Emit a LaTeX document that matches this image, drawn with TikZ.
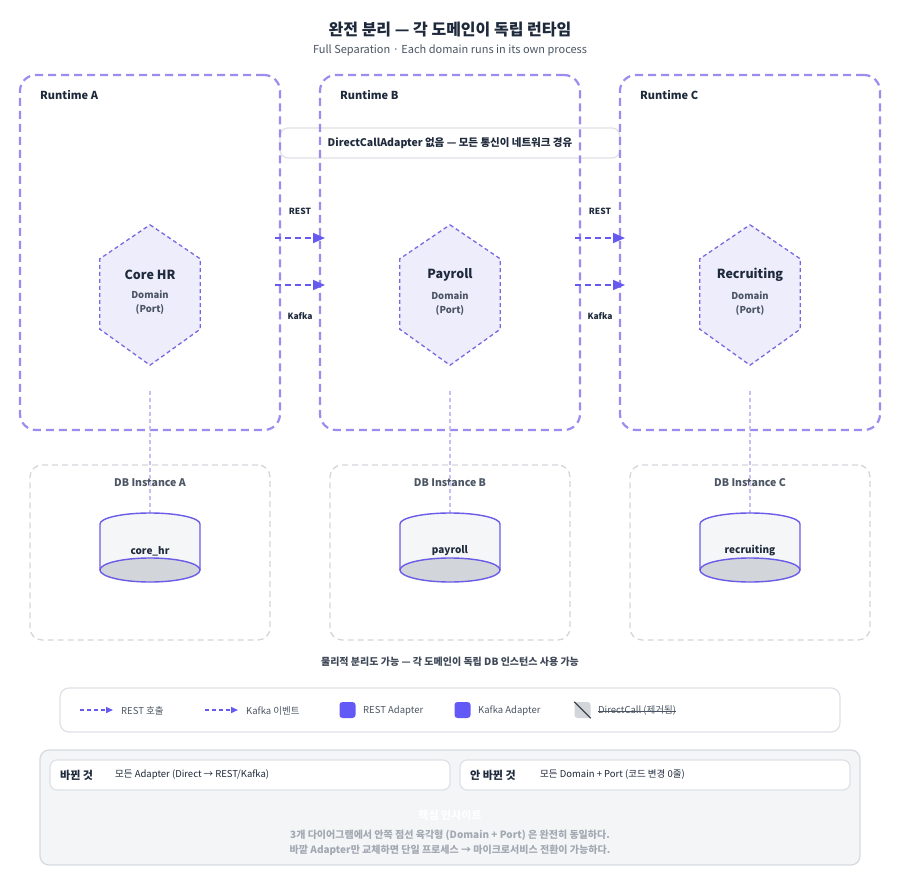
\documentclass[tikz,border=0pt]{standalone}
\usepackage{fontspec}
\setmainfont{Noto Sans CJK KR}
\usepackage{tikz}
\usetikzlibrary{arrows.meta,positioning,calc}
\definecolor{Ink}{HTML}{1E293B}
\definecolor{Muted}{HTML}{4B5563}
\definecolor{RunLine}{HTML}{9D8CF0}
\definecolor{HexLine}{HTML}{7A68E2}
\definecolor{HexFill}{HTML}{EEEDFC}
\definecolor{Flow}{HTML}{6559F0}
\definecolor{DbLine}{HTML}{D4D6DB}
\definecolor{CylLine}{HTML}{6B5CE7}
\definecolor{CylBody}{HTML}{F4F6F8}
\definecolor{CylEnd}{HTML}{D2D5DA}
\definecolor{Link}{HTML}{C9BEF5}
\definecolor{Rule}{HTML}{DEE1E6}
\definecolor{Panel}{HTML}{F3F5F7}
\definecolor{PanelLine}{HTML}{D6DAE0}
\definecolor{Adapter}{HTML}{6259F6}
\definecolor{Faint}{HTML}{A3A9B3}
\tikzset{
  runtime/.style={draw=RunLine,line width=2.2pt,dash pattern=on 8pt off 5pt,rounded corners=16pt,minimum width=260pt,minimum height=355pt,inner sep=0pt},
  rtlabel/.style={font=\fontsize{11}{13}\selectfont\bfseries,text=Ink,anchor=west,inner sep=0pt},
  hexline/.style={draw=HexLine,fill=HexFill,line width=1.3pt,dash pattern=on 4pt off 3pt},
  hextitle/.style={font=\fontsize{12.5}{14}\selectfont\bfseries,text=Ink,inner sep=0pt},
  hexsub/.style={font=\fontsize{9.5}{14}\selectfont\bfseries,text=Muted,align=center,inner sep=0pt},
  flow/.style={-{Triangle[length=12pt,width=10pt]},draw=Flow,line width=1.8pt,dash pattern=on 6pt off 4pt},
  smallflow/.style={-{Triangle[length=7pt,width=6pt]},draw=Flow,line width=1.4pt,dash pattern=on 4pt off 3pt},
  flowlabel/.style={font=\fontsize{8.5}{10}\selectfont\bfseries,text=Ink,inner sep=0pt},
  dbbox/.style={draw=DbLine,line width=1.3pt,dash pattern=on 6pt off 4pt,rounded corners=12pt,minimum width=240pt,minimum height=175pt},
  dblabel/.style={font=\fontsize{10.5}{12}\selectfont\bfseries,text=Muted,inner sep=0pt},
  cylline/.style={draw=CylLine,line width=1.4pt},
  cyllabel/.style={font=\fontsize{10}{12}\selectfont\bfseries,text=Ink,inner sep=0pt},
  linkline/.style={draw=Link,line width=1.4pt,dash pattern=on 4pt off 3pt},
  bar/.style={draw=Rule,fill=white,line width=1.2pt,rounded corners=8pt,minimum width=340pt,minimum height=30pt,font=\fontsize{10.5}{12}\selectfont\bfseries,text=Ink},
  legendbox/.style={draw=Rule,fill=white,line width=1.2pt,rounded corners=9pt,minimum width=780pt,minimum height=44pt},
  legtext/.style={font=\fontsize{9.5}{11}\selectfont,text=Muted,anchor=west,inner sep=0pt},
  adsq/.style={fill=Adapter,rounded corners=3pt,minimum size=16pt,inner sep=0pt},
  panel/.style={draw=PanelLine,fill=Panel,line width=1.2pt,rounded corners=9pt,minimum width=820pt,minimum height=115pt},
  subbox/.style={draw=Rule,fill=white,line width=1.2pt,rounded corners=7pt,minimum height=30pt},
  subhead/.style={font=\fontsize{11}{13}\selectfont\bfseries,text=Ink,anchor=west,inner sep=0pt},
  subtext/.style={font=\fontsize{9.5}{11}\selectfont,text=Ink,anchor=west,inner sep=0pt},
  insight/.style={font=\fontsize{10}{15}\selectfont\bfseries,text=Faint,align=center,inner sep=0pt}
}
\begin{document}
\begin{tikzpicture}[x=1pt,y=-1pt]
  \useasboundingbox[fill=white] (0,0) rectangle (900,880);
  % heading
  \node[font=\fontsize{16}{18}\selectfont\bfseries,text=Ink] (title) at (450,30) {완전 분리 — 각 도메인이 독립 런타임};
  \node[font=\fontsize{11}{13}\selectfont,text=Muted] (subtitle) at (450,50) {Full Separation · Each domain runs in its own process};
  \node[bar] (nodirect) at (450,143) {DirectCallAdapter 없음 — 모든 통신이 네트워크 경유};
  % one column per runtime
  \foreach \c/\x/\dom/\db in {A/150/Core HR/core\_hr,B/450/Payroll/payroll,C/750/Recruiting/recruiting}{
    \node[runtime] (rt\c) at (\x,252.5) {};
    \node[rtlabel] (rtlab\c) at (\x-110,95) {Runtime \c};
    \node[minimum width=100pt,minimum height=140pt,inner sep=0pt] (hex\c) at (\x,295) {};
    \draw[hexline] (hex\c.north) -- ($(hex\c.north east)+(0,34)$) -- ($(hex\c.south east)+(0,-36)$)
      -- (hex\c.south) -- ($(hex\c.south west)+(0,-36)$) -- ($(hex\c.north west)+(0,34)$) -- cycle;
    \node[hextitle] (dom\c) at (\x,275) {\dom};
    \node[hexsub,below=10pt of dom\c] (port\c) {Domain\\(Port)};
    \node[dbbox] (db\c) at (\x,552.5) {};
    \node[dblabel] (dblab\c) at (\x,483) {DB Instance \c};
    \coordinate (top\c) at (\x,513);
    \draw[linkline] ([yshift=-26pt]hex\c.south) -- (top\c);
    \fill[CylBody] (\x-50,524) arc[start angle=180,end angle=0,x radius=50pt,y radius=11pt]
      -- (\x+50,570) arc[start angle=0,end angle=-180,x radius=50pt,y radius=12pt] -- cycle;
    \draw[cylline] (\x-50,570) -- (\x-50,524) arc[start angle=180,end angle=0,x radius=50pt,y radius=11pt] -- (\x+50,570);
    \draw[cylline,fill=CylEnd] (\x,570) ellipse[x radius=50pt,y radius=12pt];
    \node[cyllabel] (cyl\c) at (\x,551) {\db};
  }
  % network calls between runtimes
  \foreach \s/\xa in {A/275,B/575}{
    \coordinate (restfrom\s) at (\xa,238);
    \coordinate (restto\s) at (\xa+50,238);
    \coordinate (kafkafrom\s) at (\xa,285);
    \coordinate (kafkato\s) at (\xa+50,285);
    \draw[flow] (restfrom\s) -- (restto\s);
    \draw[flow] (kafkafrom\s) -- (kafkato\s);
    \node[flowlabel] (restlab\s) at (\xa+25,211) {REST};
    \node[flowlabel] (kafkalab\s) at (\xa+25,316) {Kafka};
  }
  \node[font=\fontsize{10}{12}\selectfont\bfseries,text=Ink!85] (physical) at (450,662) {물리적 분리도 가능 — 각 도메인이 독립 DB 인스턴스 사용 가능};
  % legend
  \node[legendbox] (legend) at (450,710) {};
  \coordinate (lgrest0) at (80,710);
  \coordinate (lgrest1) at (113,710);
  \draw[smallflow] (lgrest0) -- (lgrest1);
  \node[legtext] (lgresttext) at (121,710.5) {REST 호출};
  \coordinate (lgkafka0) at (205,710);
  \coordinate (lgkafka1) at (238,710);
  \draw[smallflow] (lgkafka0) -- (lgkafka1);
  \node[legtext] (lgkafkatext) at (246,710.5) {Kafka 이벤트};
  \node[adsq] (sqrest) at (347.5,710) {};
  \node[legtext] (sqresttext) at (363,710.5) {REST Adapter};
  \node[adsq] (sqkafka) at (462.5,710) {};
  \node[legtext] (sqkafkatext) at (478,710.5) {Kafka Adapter};
  \node[adsq,fill=CylEnd] (sqdirect) at (582.5,710) {};
  \draw[Muted!80!black,line width=1.3pt] (sqdirect.north west) -- (sqdirect.south east);
  \node[legtext] (sqdirecttext) at (598,710.5) {DirectCall (제거됨)};
  \draw[Muted,line width=.7pt] ([yshift=-.5pt]sqdirecttext.west) -- ([yshift=-.5pt]sqdirecttext.east);
  % summary panel
  \node[panel] (summary) at (450,807.5) {};
  \node[subbox,minimum width=400pt] (changed) at (250,775) {};
  \node[subhead] (changedhead) at (60,775) {바뀐 것};
  \node[subtext] (changedtext) at (115,775) {모든 Adapter (Direct → REST/Kafka)};
  \node[subbox,minimum width=390pt] (kept) at (655,775) {};
  \node[subhead] (kepthead) at (470,775) {안 바뀐 것};
  \node[subtext] (kepttext) at (540,775) {모든 Domain + Port (코드 변경 0줄)};
  \node[font=\fontsize{11}{13}\selectfont\bfseries,text=white] (insighthead) at (450,815) {핵심 인사이트};
  \node[insight] (insighttext) at (450,842.5) {3개 다이어그램에서 안쪽 점선 육각형 (Domain + Port) 은 완전히 동일하다.\\바깥 Adapter만 교체하면 단일 프로세스 → 마이크로서비스 전환이 가능하다.};
\end{tikzpicture}
\end{document}
